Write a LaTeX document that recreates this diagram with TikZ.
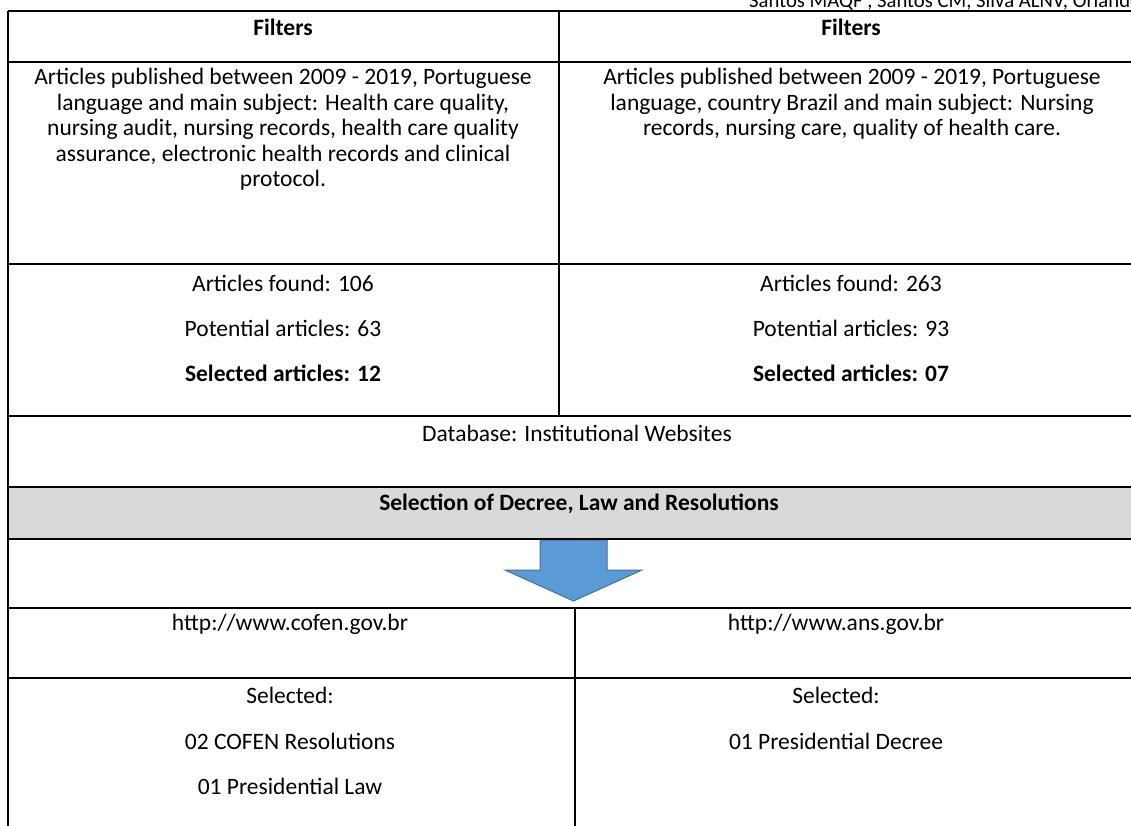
\documentclass[tikz,border=0pt]{standalone}
\usepackage{fontspec}
\setmainfont{Carlito}
\begin{document}
\begin{tikzpicture}[x=1pt,y=-1pt,
  rule/.style={line width=2.2pt,black},
  txt/.style={inner sep=0pt,font=\fontsize{23.5}{25.5}\selectfont,align=center},
  btxt/.style={txt,font=\fontsize{23.5}{25.5}\selectfont\bfseries}]
\useasboundingbox (0,0) rectangle (1131,825);
\clip (0,0) rectangle (1131,825);
% gray band
\fill[fill={rgb,255:red,217;green,217;blue,217}] (8,487) rectangle (1140,539);
% arrow
\draw[fill={rgb,255:red,91;green,155;blue,213},draw={rgb,255:red,65;green,113;blue,156},line width=1pt]
  (540,540) -- (607,540) -- (607,570) -- (642,570) -- (573.5,601) -- (505,570) -- (540,570) -- cycle;
% rules
\draw[rule] (8,11) -- (1140,11);
\draw[rule] (8,11) -- (8,826);
\foreach \y in {62,264,416,487,539,608,678} \draw[rule] (8,\y) -- (1140,\y);
\draw[rule] (559,11) -- (559,416);
\draw[rule] (575,608) -- (575,826);
% author line
\node[inner sep=0pt,font=\fontsize{20.7}{24}\selectfont,anchor=base west] (auth) at (749,7) {Santos MAQF , Santos CM, Silva ALNV, Orlando};
% texts
\node[btxt,anchor=base] (f1) at (283,35) {Filters};
\node[btxt,anchor=base] (f2) at (851,35) {Filters};
\node[txt,anchor=north] (t1) at (283,68) {Articles published between 2009 - 2019, Portuguese\\language and main subject: Health care quality,\\nursing audit, nursing records, health care quality\\assurance, electronic health records and clinical\\protocol.};
\node[txt,anchor=north] (t2) at (852,68) {Articles published between 2009 - 2019, Portuguese\\language, country Brazil and main subject: Nursing\\records, nursing care, quality of health care.};
\node[txt] (a1) at (283,283) {Articles found: 106};
\node[txt] (p1) at (283,328) {Potential articles: 63};
\node[btxt] (s1) at (283,373) {Selected articles: 12};
\node[txt] (a2) at (851,283) {Articles found: 263};
\node[txt] (p2) at (851,328) {Potential articles: 93};
\node[btxt] (s2) at (851,373) {Selected articles: 07};
\node[txt,anchor=base] (db) at (577,441) {Database: Institutional Websites};
\node[btxt,anchor=base] (sel) at (579,510) {Selection of Decree, Law and Resolutions};
\node[txt] (u1) at (290,624) {http://www.cofen.gov.br};
\node[txt] (u2) at (836,624) {http://www.ans.gov.br};
\node[txt] (l1) at (290,695) {Selected:};
\node[txt] (l2) at (290,741) {02 COFEN Resolutions};
\node[txt] (l3) at (290,786) {01 Presidential Law};
\node[txt] (r1) at (836,695) {Selected:};
\node[txt] (r2) at (836,741) {01 Presidential Decree};
\end{tikzpicture}
\end{document}
